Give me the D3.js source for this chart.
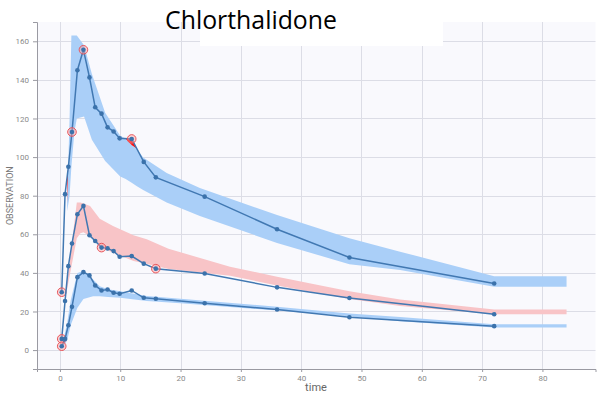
<!DOCTYPE html>
<html>
<head>
<meta charset="utf-8">
<script src="https://cdn.jsdelivr.net/npm/d3@7"></script>
<style>
  html, body { margin: 0; padding: 0; background: #ffffff; }
  svg { display: block; }
</style>
</head>
<body>
<svg id="chart" width="597" height="396"></svg>
<script>
// Observation times (h) shared by the three percentile curves
const times = [0.3, 0.85, 1.4, 2, 2.9, 3.9, 4.9, 5.85, 6.9, 7.9, 8.9, 9.9, 11.9, 13.9, 15.9, 24, 36, 48, 72];

// Empirical percentiles of the observations
const upperObs  = [30, 80.8, 95, 113, 145, 155.6, 141.3, 125.8, 122.5, 115.4, 113.3, 109.7, 109.4, 97.5, 89.5, 79.5, 62.6, 48, 34.5];
const medianObs = [5.8, 25.4, 43.5, 55.2, 70.4, 74.7, 59.5, 56.5, 53.1, 52.7, 51.3, 48.4, 48.7, 44.8, 42.2, 39.7, 32.5, 27, 18.6];
const lowerObs  = [2, 5.8, 12.9, 22.4, 37.8, 40.4, 38.7, 33.5, 30.9, 31.4, 29.7, 29.2, 30.9, 27.1, 26.6, 24.3, 21, 17, 12.4];

// Indices of points flagged as outliers
const upperOut  = [0, 3, 5, 12];
const medianOut = [0, 8, 14];
const lowerOut  = [0];

// Prediction intervals for each percentile
const upperBandT  = [1.2, 1.6, 1.9, 2.4, 2.8, 4, 5.3, 7.5, 10, 10.9, 11.9, 12.7, 13.8, 17.7, 23.2, 36, 48, 56.4, 72, 84];
const upperBandHi = [76, 120, 163, 163, 163, 158, 143, 123, 111, 109.5, 106.2, 104.5, 99.8, 91.8, 84, 70, 58, 51, 38.3, 38.3];
const upperBandLo = [72, 80, 95, 113, 120, 121, 109, 98, 90, 88.7, 86.7, 85, 83, 76.5, 69.5, 55.5, 44.5, 41.5, 32.8, 32.8];

const medianBandT  = [1.1, 2.8, 3.4, 3.9, 5, 6.6, 8.8, 12.2, 14.4, 18, 28.2, 36, 48, 56.4, 72, 84];
const medianBandHi = [33, 76.5, 76.5, 76, 74.7, 68, 64.3, 59.5, 57.4, 52.5, 43.2, 38, 30.5, 26.2, 21, 21];
const medianBandLo = [30, 58, 60.5, 61, 59, 53.5, 50.5, 46.1, 44.7, 42, 38.5, 33.5, 26.5, 22.8, 18.6, 18.6];

const lowerBandT  = [0.4, 1.2, 1.8, 2.9, 3.9, 5.5, 6.6, 8, 10, 14.4, 20, 36, 48, 56.4, 72, 84];
const lowerBandHi = [3, 14, 26, 40, 41, 36.6, 33.1, 31.5, 30.5, 28, 26.6, 22.5, 19, 17.2, 13.4, 13.4];
const lowerBandLo = [1, 5, 13, 22, 26.5, 27.9, 27.9, 27.5, 27.1, 25.4, 24.3, 20.5, 17.5, 15, 11.7, 11.7];

// Axis ticks
const xTicks = [0, 10, 20, 30, 40, 50, 60, 70, 80];
const yTicks = [0, 20, 40, 60, 80, 100, 120, 140, 160];

const titleText = "Chlorthalidone";
const xLabel = "time";
const yLabel = "OBSERVATION";

const svg = d3.select("#chart");
const plotLeft = 37, plotRight = 595.5, plotTop = 22, plotBottom = 369;

const x = d3.scaleLinear().domain([-3.8, 88.8]).range([plotLeft, plotRight]);
const y = d3.scaleLinear().domain([-9.8, 170]).range([plotBottom, plotTop]);

// plot background
svg.append("rect")
  .attr("x", plotLeft).attr("y", plotTop)
  .attr("width", plotRight - plotLeft).attr("height", plotBottom - plotTop)
  .attr("fill", "#f9f9fd");

// grid
const grid = svg.append("g").attr("stroke", "#dcdde6").attr("stroke-width", 1);
grid.selectAll("line.gx").data(xTicks).join("line")
  .attr("x1", d => Math.round(x(d)) + 0.5).attr("x2", d => Math.round(x(d)) + 0.5)
  .attr("y1", plotTop).attr("y2", plotBottom);
grid.selectAll("line.gy").data(yTicks).join("line")
  .attr("x1", plotLeft).attr("x2", plotRight)
  .attr("y1", d => Math.round(y(d)) + 0.5).attr("y2", d => Math.round(y(d)) + 0.5);

// prediction interval bands
function band(ts, lo, hi, color) {
  const pts = ts.map((t, i) => ({ t, lo: lo[i], hi: hi[i] }));
  svg.append("path")
    .datum(pts)
    .attr("fill", color)
    .attr("d", d3.area().x(d => x(d.t)).y0(d => y(d.lo)).y1(d => y(d.hi)));
}
band(upperBandT, upperBandLo, upperBandHi, "#aacff8");
band(medianBandT, medianBandLo, medianBandHi, "#f8c4c7");
band(lowerBandT, lowerBandLo, lowerBandHi, "#aacff8");

// highlight where the upper percentile leaves its prediction interval
function interp(ts, vs, t) {
  if (t < ts[0] || t > ts[ts.length - 1]) return null;
  const i = Math.max(1, d3.bisectLeft(ts, t));
  const t0 = ts[i - 1], t1 = ts[i];
  const f = t1 === t0 ? 0 : (t - t0) / (t1 - t0);
  return vs[i - 1] + f * (vs[i] - vs[i - 1]);
}
const samples = d3.range(upperBandT[0], times[times.length - 1], 0.02).map(t => ({
  t, obs: interp(times, upperObs, t), hi: interp(upperBandT, upperBandHi, t)
}));
svg.append("path")
  .datum(samples)
  .attr("fill", "#ff0d0d")
  .attr("d", d3.area()
    .defined(d => d.obs !== null && d.hi !== null && d.obs > d.hi)
    .x(d => x(d.t)).y0(d => y(d.hi)).y1(d => y(d.obs)));

// observed percentile curves
const lineGen = d3.line().x(d => x(d.t)).y(d => y(d.v));
function series(vals, outliers) {
  const pts = times.map((t, i) => ({ t, v: vals[i] }));
  svg.append("path").datum(pts)
    .attr("fill", "none").attr("stroke", "#4178b2").attr("stroke-width", 1.5)
    .attr("d", lineGen);
  svg.append("g").selectAll("circle").data(outliers.map(i => pts[i])).join("circle")
    .attr("cx", d => x(d.t)).attr("cy", d => y(d.v)).attr("r", 4.3)
    .attr("fill", "rgba(255,160,160,0.45)").attr("stroke", "#e8575c").attr("stroke-width", 1);
  svg.append("g").selectAll("circle").data(pts).join("circle")
    .attr("cx", d => x(d.t)).attr("cy", d => y(d.v)).attr("r", 2.3)
    .attr("fill", "#3b72ab");
}
series(upperObs, upperOut);
series(medianObs, medianOut);
series(lowerObs, lowerOut);

// axes
const xAxis = svg.append("g")
  .attr("transform", `translate(0,${plotBottom})`)
  .call(d3.axisBottom(x).tickValues(xTicks).tickSize(3).tickPadding(3));
const yAxis = svg.append("g")
  .attr("transform", `translate(${plotLeft},0)`)
  .call(d3.axisLeft(y).tickValues(yTicks).tickSize(4).tickPadding(4));
[xAxis, yAxis].forEach(g => {
  g.select(".domain").attr("stroke", "#9a9aa2");
  g.selectAll(".tick line").attr("stroke", "#9a9aa2");
  g.selectAll(".tick text").attr("fill", "#8a8a8a")
    .style("font-family", "Roboto, 'Open Sans', sans-serif").style("font-size", "8px");
});

svg.append("text")
  .attr("x", 316).attr("y", 391)
  .attr("text-anchor", "middle")
  .attr("fill", "#666")
  .style("font-family", "Roboto, 'Open Sans', sans-serif").style("font-size", "11px")
  .text(xLabel);

svg.append("text")
  .attr("transform", `translate(13,${y(80)}) rotate(-90)`)
  .attr("text-anchor", "middle")
  .attr("fill", "#777")
  .style("font-family", "Roboto, 'Open Sans', sans-serif").style("font-size", "9px")
  .text(yLabel);

// title panel
svg.append("rect")
  .attr("x", 200).attr("y", 0).attr("width", 243).attr("height", 46)
  .attr("fill", "#ffffff");
svg.append("text")
  .attr("x", 165).attr("y", 29)
  .attr("fill", "#000")
  .attr("textLength", 172).attr("lengthAdjust", "spacingAndGlyphs")
  .style("font-family", "'Open Sans', 'Liberation Sans', sans-serif").style("font-size", "26px")
  .text(titleText);
</script>
</body>
</html>
